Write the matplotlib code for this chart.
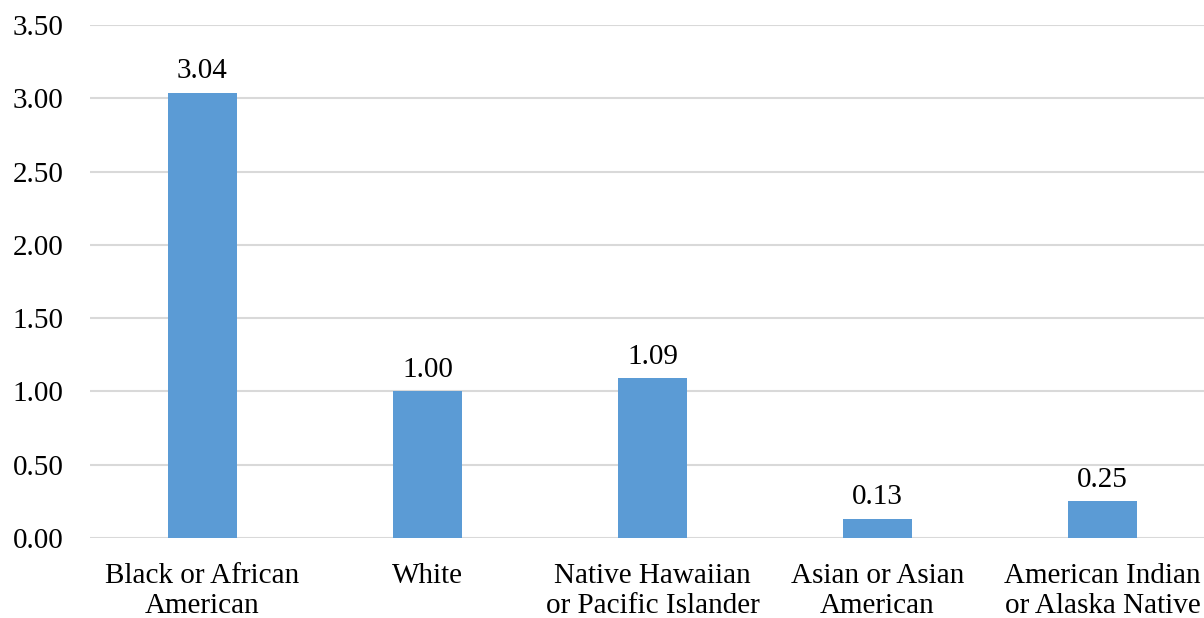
import matplotlib.pyplot as plt

categories = ['Black or African\nAmerican', 'White', 'Native Hawaiian\nor Pacific Islander',
              'Asian or Asian\nAmerican', 'American Indian\nor Alaska Native']
ratios = [3.04, 1.00, 1.09, 0.13, 0.25]
yticks = [0.0, 0.5, 1.0, 1.5, 2.0, 2.5, 3.0, 3.5]

plt.rcParams['font.family'] = ['Liberation Serif', 'DejaVu Serif']

fig = plt.figure(figsize=(12.04, 6.18), dpi=100)
ax = fig.add_axes([90 / 1204, 0.1299, 1114 / 1204, 0.8293])

x = list(range(len(categories)))
bars = ax.bar(x, ratios, width=0.311, color='#5B9BD5', zorder=3)

for b, v in zip(bars, ratios):
    ax.annotate('%.2f' % v, (b.get_x() + b.get_width() / 2, v),
                xytext=(0, 6), textcoords='offset points',
                ha='center', va='bottom', fontsize=21, color='#000000')

ax.set_xlim(-0.5, -0.5 + 1114 / 225)
ax.set_ylim(0, 3.5)
ax.set_yticks(yticks)
ax.set_yticklabels(['%.2f' % t for t in yticks])
ax.set_xticks(x)
ax.set_xticklabels(categories)

ax.tick_params(axis='y', length=0, pad=19, labelsize=21)
ax.tick_params(axis='x', length=0, pad=18.5, labelsize=21)
ax.grid(axis='y', color='#D9D9D9', linewidth=1.5, zorder=0)
for s in ax.spines.values():
    s.set_visible(False)

fig.savefig('out.png', dpi=100)
